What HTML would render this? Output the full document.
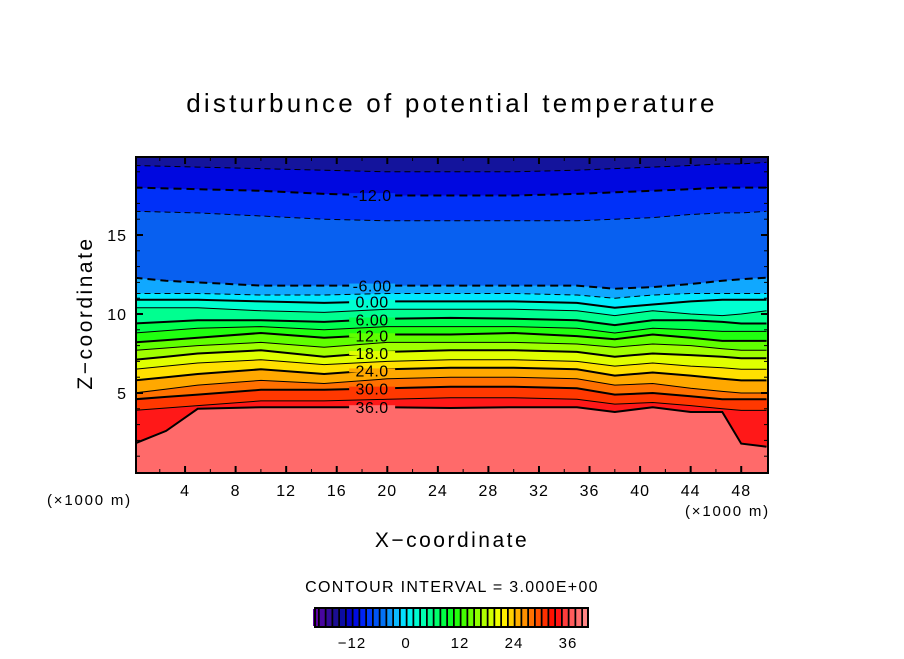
<!DOCTYPE html>
<html><head><meta charset="utf-8">
<style>
body{margin:0;background:#fff;}
svg text{font-family:"Liberation Sans",sans-serif;fill:#000;}
</style></head>
<body>
<svg id="chart" width="904" height="654" viewBox="0 0 904 654" xmlns="http://www.w3.org/2000/svg">
<rect width="904" height="654" fill="#fff"/>
<text x="452" y="112" text-anchor="middle" font-size="26" letter-spacing="3.2">disturbunce of potential temperature</text>
<defs><clipPath id="plotclip"><rect x="136" y="157" width="632" height="316"/></clipPath></defs>
<g id="fills" clip-path="url(#plotclip)"></g>
<g id="lines" clip-path="url(#plotclip)"></g>
<g id="labels"></g>
<rect x="136" y="157" width="632" height="316" fill="none" stroke="#000" stroke-width="2"/>
<g id="ticks"></g>
<text transform="translate(92,313) rotate(-90)" text-anchor="middle" font-size="21" letter-spacing="2.5">Z−coordinate</text>
<text x="452" y="547" text-anchor="middle" font-size="21" letter-spacing="2.5">X−coordinate</text>
<text x="47" y="505" font-size="15" letter-spacing="1.8">(×1000 m)</text>
<text x="685" y="516" font-size="15" letter-spacing="1.8">(×1000 m)</text>
<text x="452" y="592" text-anchor="middle" font-size="16" letter-spacing="1.3">CONTOUR INTERVAL = 3.000E+00</text>
<g id="cbar"></g>
</svg>
<script>
const xs = [0,2.5,5,10,15,20,25,30,35,38,41,44,46.5,48,50];
const levels = [-15,-12,-9,-6,-3,0,3,6,9,12,15,18,21,24,27,30,33,36];
const contourZ = [
 [19.4,19.35,19.3,19.2,19.1,19.0,19.0,19.0,19.1,19.2,19.3,19.4,19.5,19.5,19.6],
 [18.0,17.95,17.9,17.8,17.6,17.5,17.5,17.5,17.6,17.7,17.8,17.9,18.0,18.0,18.0],
 [16.5,16.45,16.4,16.2,16.0,15.9,15.9,15.9,15.9,16.0,16.1,16.3,16.4,16.4,16.5],
 [12.3,12.1,12.0,11.8,11.8,11.8,11.8,11.8,11.8,11.6,11.7,11.9,12.1,12.2,12.3],
 [11.3,11.3,11.3,11.2,11.2,11.3,11.3,11.3,11.2,11.0,11.2,11.3,11.3,11.3,11.3],
 [10.9,10.9,10.9,10.8,10.7,10.8,10.8,10.8,10.7,10.4,10.6,10.8,10.9,10.9,10.9],
 [10.4,10.4,10.4,10.2,10.1,10.3,10.3,10.3,10.2,9.9,10.2,10.0,9.9,10.0,10.2],
 [9.4,9.5,9.6,9.6,9.5,9.7,9.75,9.7,9.6,9.3,9.6,9.6,9.5,9.4,9.4],
 [8.8,8.95,9.1,9.2,9.0,9.2,9.2,9.2,9.1,8.8,9.1,9.0,8.9,8.9,8.9],
 [8.2,8.35,8.5,8.8,8.5,8.7,8.7,8.8,8.6,8.4,8.7,8.5,8.3,8.3,8.3],
 [7.7,7.85,8.0,8.2,7.9,8.2,8.2,8.2,8.1,7.9,8.1,8.0,7.8,7.7,7.7],
 [7.1,7.3,7.5,7.7,7.3,7.6,7.7,7.7,7.6,7.3,7.5,7.4,7.3,7.2,7.2],
 [6.5,6.7,6.9,7.1,6.8,7.0,7.1,7.1,7.0,6.7,6.9,6.7,6.6,6.5,6.5],
 [5.8,6.0,6.2,6.5,6.2,6.5,6.6,6.6,6.5,6.1,6.3,6.1,5.9,5.8,5.8],
 [5.0,5.25,5.5,5.8,5.6,5.9,6.0,6.0,5.9,5.5,5.6,5.3,5.1,5.0,5.0],
 [4.6,4.75,4.9,5.2,5.2,5.3,5.4,5.4,5.3,4.9,5.0,4.8,4.6,4.6,4.6],
 [3.9,4.05,4.2,4.5,4.5,4.6,4.7,4.7,4.6,4.3,4.4,4.2,4.0,3.9,3.9],
 [1.8,2.6,4.0,4.1,4.1,4.1,4.05,4.1,4.1,3.8,4.1,3.8,3.8,1.8,1.6]
];
const bandColors = ["#14149c","#0008e0","#0030f8","#0860f0","#10a8ff","#00e8ff","#00ffd0","#00ff90","#00ff50","#20ff10","#60ff00","#a0ff00","#e0ff00","#ffe000","#ffa800","#ff7000","#ff3800","#ff1818","#ff6a6a"];
const labelText = ["-12.0","-6.00","0.00","6.00","12.0","18.0","24.0","30.0","36.0"];
const labelLevel = [-12,-6,0,6,12,18,24,30,36];
const xTicks = [4,8,12,16,20,24,28,32,36,40,44,48];
const yTicks = [5,10,15];
const cbarLabels = [-12,0,12,24,36];
const cbarStops = [-21,-15,-12,-9,-6,-3,0,3,6,9,12,15,18,21,24,27,30,33,36,40.5];
const cbarStopColors = ["#6a00a8","#101090","#0000d8","#0030ff","#0060f0","#10a8ff","#00f0ff","#00ffc0","#00ff80","#00ff30","#30ff00","#80ff00","#c0ff00","#ffff00","#ffc000","#ff8000","#ff4000","#ff0000","#ff5050","#ff9090"];

const X = v => 134.5 + v*(632/50);
const Y = v => 472 - v*15.8;
const NS = "http://www.w3.org/2000/svg";
function mk(tag, attrs, parent){const e=document.createElementNS(NS,tag);for(const k in attrs)e.setAttribute(k,attrs[k]);parent.appendChild(e);return e;}
const fills=document.getElementById('fills'), lines=document.getElementById('lines');
function pts(i){return xs.map((x,j)=>X(x).toFixed(1)+','+Y(contourZ[i][j]).toFixed(1));}
let bg=mk('rect',{x:130,y:150,width:650,height:330,fill:bandColors[bandColors.length-1]},fills);


for(let i=levels.length-1;i>=0;i--){
  const p=pts(i);
  const poly=mk('polygon',{points:[X(-2)+','+Y(21),X(-2)+','+Y(contourZ[i][0]),...p,X(52)+','+Y(contourZ[i][xs.length-1]),X(52)+','+Y(21)].join(' '),fill:bandColors[i]},fills);
  
  
}
for(let i=0;i<levels.length;i++){
  const lv=levels[i], bold=lv%6===0;
  const pl=mk('polyline',{points:pts(i).join(' '),fill:'none',stroke:'#000','stroke-width':bold?2:1},lines);
  if(lv<0)pl.setAttribute('stroke-dasharray',bold?'8,5':'6,4');
  
  
}
const labels=document.getElementById('labels');
function interp(i,x){for(let j=0;j<xs.length-1;j++){if(x>=xs[j]&&x<=xs[j+1]){const t=(x-xs[j])/(xs[j+1]-xs[j]);return contourZ[i][j]*(1-t)+contourZ[i][j+1]*t;}}return contourZ[i][0];}
labelLevel.forEach((lv,k)=>{
  const i=levels.indexOf(lv);const z=interp(i,18.8);
  const r=mk('rect',{x:X(18.8)-23,y:Y(z)-2,width:46,height:4,fill:bandColors[i+1]},labels);
  
  
  const t=mk('text',{x:X(18.8),y:Y(z)+6,'text-anchor':'middle','font-size':16,'letter-spacing':0.5},labels);
  t.textContent=labelText[k];
  
  
});
const ticks=document.getElementById('ticks');
for(let v=2;v<50;v+=2){const major=v%4===0,L=major?7:4;
  const a=mk('line',{x1:X(v),x2:X(v),y1:473,y2:473-L,stroke:'#000','stroke-width':major?2:1},ticks);
  
  const b=mk('line',{x1:X(v),x2:X(v),y1:157,y2:157+L,stroke:'#000','stroke-width':major?2:1},ticks);
  }
for(let v=1;v<20;v++){const major=v%5===0,L=major?7:4;
  const a=mk('line',{x1:136,x2:136+L,y1:Y(v),y2:Y(v),stroke:'#000','stroke-width':major?2:1},ticks);
  
  const b=mk('line',{x1:768,x2:768-L,y1:Y(v),y2:Y(v),stroke:'#000','stroke-width':major?2:1},ticks);
  }
xTicks.forEach(v=>{const t=mk('text',{x:X(v),y:496,'text-anchor':'middle','font-size':16,'letter-spacing':1},ticks);t.textContent=v;
  });
yTicks.forEach(v=>{const t=mk('text',{x:127,y:Y(v)+6,'text-anchor':'end','font-size':16,'letter-spacing':1},ticks);t.textContent=v;
  });
const cbar=document.getElementById('cbar');
const CX=v=>406+(v)*4.5;
function hex(c){return [1,3,5].map(i=>parseInt(c.substr(i,2),16));}
function cmap(v){for(let j=0;j<cbarStops.length-1;j++){if(v<=cbarStops[j+1]){const t=(v-cbarStops[j])/(cbarStops[j+1]-cbarStops[j]);const a=hex(cbarStopColors[j]),b=hex(cbarStopColors[j+1]);return 'rgb('+a.map((x,k)=>Math.round(x+(b[k]-x)*t)).join(',')+')';}}return cbarStopColors[cbarStopColors.length-1];}
mk('rect',{x:315,y:608,width:273,height:19,fill:'#000'},cbar);
for(let v=-21;v<40.5;v+=1.5){const r=mk('rect',{x:CX(v)+1.5,y:609,width:5,height:17,fill:cmap(v+0.75)},cbar);
  }
const fr=mk('rect',{x:315,y:608,width:273,height:19,fill:'none',stroke:'#000','stroke-width':2},cbar);

cbarLabels.forEach(v=>{const t=mk('text',{x:CX(v),y:648,'text-anchor':'middle','font-size':15,'letter-spacing':1},cbar);t.textContent=v<0?'−'+(-v):v;
  });
</script>
</body></html>
